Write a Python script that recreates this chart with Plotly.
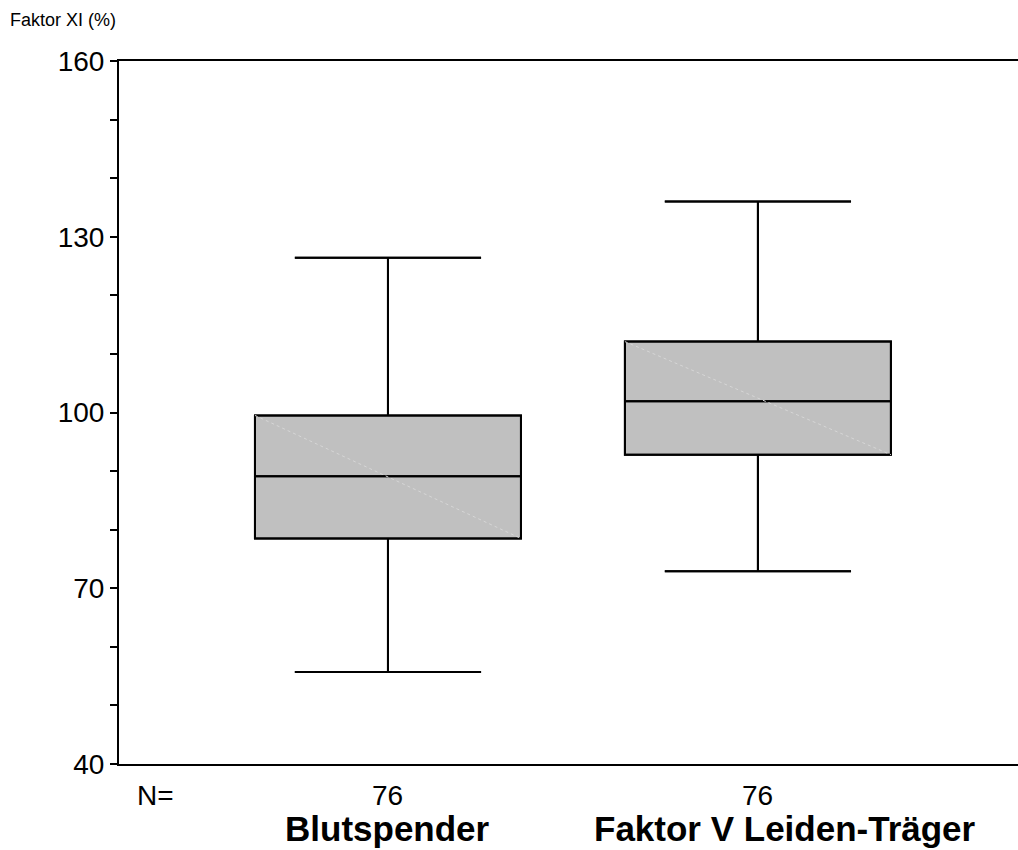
import plotly.graph_objects as go

categories = ["Blutspender", "Faktor V Leiden-Träger"]
n_values = [76, 76]
q1 = [78.5, 92.8]
median = [89.1, 101.9]
q3 = [99.5, 112.1]
lower = [55.7, 72.9]
upper = [126.4, 136.0]
y_ticks = [40, 70, 100, 130, 160]

xpos = list(range(len(categories)))
box_w = 0.719

fig = go.Figure()
fig.add_trace(go.Box(
    x=xpos, q1=q1, median=median, q3=q3, lowerfence=lower, upperfence=upper,
    width=box_w, whiskerwidth=0.7, fillcolor="#c0c0c0",
    line=dict(color="black", width=2), boxpoints=False, showlegend=False,
    hoverinfo="skip"))
# faint diagonal rendering artifact inside each box
for i in xpos:
    fig.add_trace(go.Scatter(
        x=[i - box_w / 2, i + box_w / 2], y=[q3[i], q1[i]], mode="lines",
        line=dict(color="#d6d6d6", width=1, dash="dot"), showlegend=False,
        hoverinfo="skip"))
fig.add_trace(go.Box(
    x=xpos, q1=q1, median=median, q3=q3, lowerfence=lower, upperfence=upper,
    width=box_w, whiskerwidth=0.7, fillcolor="rgba(0,0,0,0)",
    line=dict(color="black", width=2), boxpoints=False, showlegend=False,
    hoverinfo="skip"))

font = "Liberation Sans, Arial, sans-serif"
fig.update_layout(
    width=1018, height=850, margin=dict(l=119, r=0, t=61, b=86),
    plot_bgcolor="white", paper_bgcolor="white", boxmode="overlay",
    font=dict(family=font, color="black"),
    xaxis=dict(range=[-0.727, 1.703], showticklabels=False, ticks="",
               showgrid=False, zeroline=False, showline=True, linecolor="black",
               linewidth=2, mirror=True),
    yaxis=dict(range=[40, 160], tickvals=y_ticks, ticktext=[str(v) for v in y_ticks],
               ticks="outside", ticklen=7, tickwidth=1.5, tickcolor="black",
               tickfont=dict(size=28, family=font, color="black"),
               showgrid=False, zeroline=False, showline=True, linecolor="black",
               linewidth=2,
               minor=dict(dtick=10, ticks="outside", ticklen=7, tickwidth=1.5,
                          tickcolor="black", showgrid=False)),
)

ann = []
ann.append(dict(text="Faktor XI (%)", xref="paper", yref="paper", x=0, y=1,
                xshift=-111, yshift=41, xanchor="left", yanchor="middle",
                showarrow=False, font=dict(size=18, family=font)))
ann.append(dict(text="N=", xref="paper", yref="paper", x=0, y=0, xshift=16,
                yshift=-31, xanchor="left", yanchor="middle", showarrow=False,
                font=dict(size=28, family=font)))
for i, c in enumerate(categories):
    ann.append(dict(text=str(n_values[i]), xref="x", yref="paper", x=i, y=0,
                    yshift=-31, xanchor="center", yanchor="middle", showarrow=False,
                    font=dict(size=28, family=font)))
    ann.append(dict(text="<b>" + c + "</b>", xref="x", yref="paper", x=i, y=0,
                    xshift=27 if i == 1 else 0, yshift=-64, xanchor="center",
                    yanchor="middle", showarrow=False,
                    font=dict(size=35, family=font)))
fig.update_layout(annotations=ann)

fig.write_html("out.html")
